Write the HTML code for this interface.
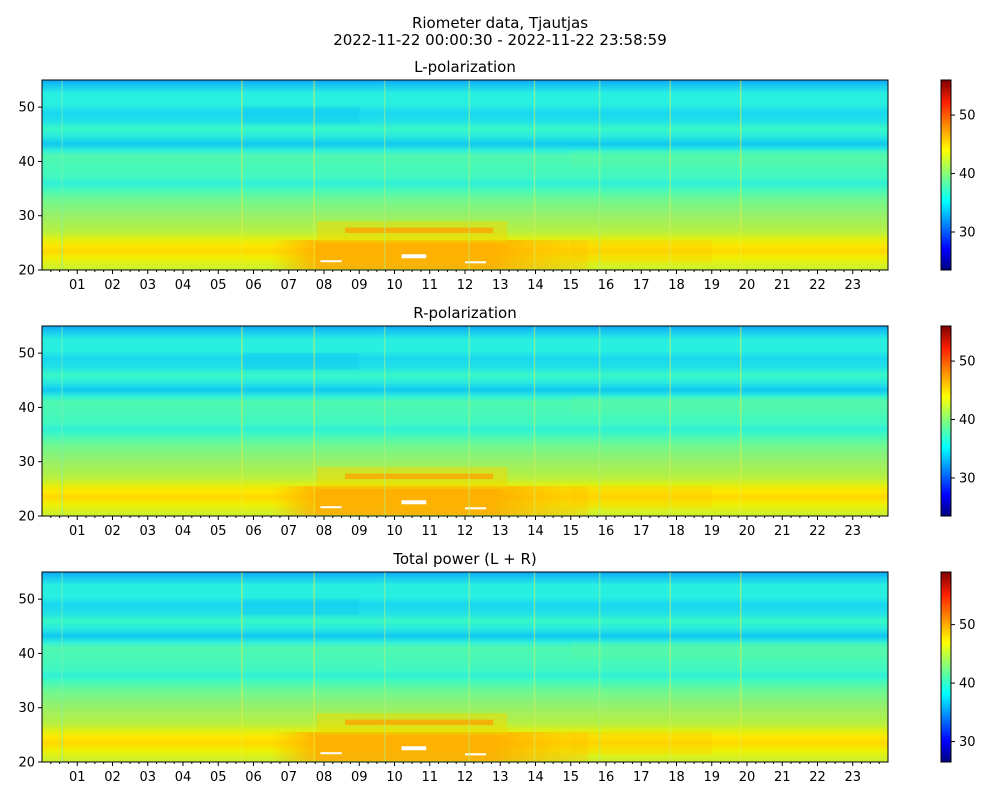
<!DOCTYPE html>
<html><head><style>
body{margin:0;background:#fff;font-family:"Liberation Sans","DejaVu Sans",sans-serif;}
</style></head><body>
<svg id="s" width="1000" height="800" xmlns="http://www.w3.org/2000/svg" font-family="DejaVu Sans, Liberation Sans, sans-serif"></svg>
<script>
const s=document.getElementById('s');
let h='';
h+='<text x="500" y="28" font-size="15" text-anchor="middle">Riometer data, Tjautjas</text>';
h+='<text x="500" y="45" font-size="15" text-anchor="middle">2022-11-22 00:00:30 - 2022-11-22 23:58:59</text>';
const panels=[{t:80,title:'L-polarization',cb:[23.5,56],ct:[30,40,50]},{t:326,title:'R-polarization',cb:[23.5,56],ct:[30,40,50]},{t:572,title:'Total power (L + R)',cb:[26.5,59],ct:[30,40,50]}];
const L=42,R=888,H=190;
const stops=[[55,'#0aa8f8'],[54,'#18c8f0'],[52.5,'#28f0e0'],[50.5,'#28f0e0'],[49,'#18d8f0'],[47.5,'#20e0e8'],[46,'#38f8c8'],[44.5,'#28e8e0'],[43.2,'#10c8f0'],[42,'#30f0d8'],[41,'#50f8b0'],[39,'#48f8b8'],[37,'#40f8c0'],[36,'#30f0d8'],[35,'#40f8c0'],[33,'#70f890'],[30,'#98f068'],[27,'#b8f040'],[25.7,'#e0f010'],[24.5,'#ffe800'],[23.5,'#ffd800'],[22.2,'#f0f000'],[21,'#d8f020'],[20,'#c8f030']];
const yf=(t,f)=>t+(55-f)/35*H;
const xh=hr=>L+hr/24*(R-L);
panels.forEach((p,i)=>{
 const t=p.t,b=t+H;
 h+=`<defs><linearGradient id="g${i}" x1="0" y1="0" x2="0" y2="1">`;
 stops.forEach(st=>{h+=`<stop offset="${(55-st[0])/35}" stop-color="${st[1]}"/>`});
 h+='</linearGradient>';
 h+=`<linearGradient id="o${i}" x1="0" y1="0" x2="1" y2="0"><stop offset="0" stop-color="#ffb000" stop-opacity="0"/><stop offset="0.15" stop-color="#ffa800" stop-opacity="0.85"/><stop offset="0.7" stop-color="#ffa800" stop-opacity="0.85"/><stop offset="1" stop-color="#ffc000" stop-opacity="0.3"/></linearGradient>`;
 h+=`<linearGradient id="cb${i}" x1="0" y1="1" x2="0" y2="0"><stop offset="0" stop-color="#00007f"/><stop offset="0.11" stop-color="#0000ff"/><stop offset="0.36" stop-color="#00ffff"/><stop offset="0.5" stop-color="#7fff7f"/><stop offset="0.63" stop-color="#ffff00"/><stop offset="0.88" stop-color="#ff2000"/><stop offset="1" stop-color="#7f0000"/></linearGradient></defs>`;
 h+=`<text x="${(L+R)/2}" y="${t-8}" font-size="15" text-anchor="middle">${p.title}</text>`;
 h+=`<rect x="${L}" y="${t}" width="${R-L}" height="${H}" fill="url(#g${i})"/>`;
 h+=`<rect x="${xh(15)}" y="${yf(t,42)}" width="${R-xh(15)}" height="${H*3/35}" fill="#60f8a0" opacity="0.3"/>`;
 h+=`<rect x="${xh(5.7)}" y="${yf(t,50)}" width="${xh(9)-xh(5.7)}" height="${H*3/35}" fill="#10c8f0" opacity="0.35"/>`;
 h+=`<rect x="${xh(6.5)}" y="${yf(t,25.5)}" width="${xh(15.5)-xh(6.5)}" height="${H*5.3/35}" fill="url(#o${i})"/>`;
 h+=`<rect x="${xh(15)}" y="${yf(t,25.5)}" width="${xh(19)-xh(15)}" height="${H*4/35}" fill="#ffc000" opacity="0.25"/>`;
 h+=`<rect x="${xh(7.8)}" y="${yf(t,29)}" width="${xh(13.2)-xh(7.8)}" height="${H*4/35}" fill="#f0d800" opacity="0.5"/>`;
 h+=`<rect x="${xh(8.6)}" y="${yf(t,27.8)}" width="${xh(12.8)-xh(8.6)}" height="${H*1/35}" fill="#ffa000" opacity="0.75"/>`;
 h+=`<rect x="${xh(7.9)}" y="${yf(t,21.8)}" width="${xh(8.5)-xh(7.9)}" height="2" fill="#fff"/>`;
 h+=`<rect x="${xh(10.2)}" y="${yf(t,22.9)}" width="${xh(10.9)-xh(10.2)}" height="4" fill="#fff"/>`;
 h+=`<rect x="${xh(12)}" y="${yf(t,21.6)}" width="${xh(12.6)-xh(12)}" height="2" fill="#fff"/>`;
 [[5.65,'#e8f040'],[7.7,'#e8f040'],[13.95,'#d8f060'],[15.8,'#b0f080'],[17.8,'#d8f060'],[19.8,'#e8f040'],[0.55,'#80f0b0'],[9.7,'#b0f080'],[12.1,'#c0f070']].forEach(v=>{
  h+=`<rect x="${xh(v[0])}" y="${t}" width="1.5" height="${H}" fill="${v[1]}" opacity="0.5"/>`;});
 h+=`<rect x="${L}" y="${t}" width="${R-L}" height="${H}" fill="none" stroke="#000" stroke-width="1"/>`;
 [20,30,40,50].forEach(f=>{const y=yf(t,f);h+=`<line x1="${L-4}" y1="${y}" x2="${L}" y2="${y}" stroke="#000"/><text x="${L-7}" y="${y+4.5}" font-size="13" text-anchor="end">${f}</text>`;});
 for(let q=1;q<96;q++){const x=xh(q/4);const maj=q%4==0;h+=`<line x1="${x}" y1="${b}" x2="${x}" y2="${b+(maj?4:2)}" stroke="#000"/>`;
  if(maj){h+=`<text x="${x}" y="${b+19}" font-size="13" text-anchor="middle">${String(q/4).padStart(2,'0')}</text>`;}}
 h+=`<rect x="941" y="${t}" width="10" height="${H}" fill="url(#cb${i})" stroke="#000" stroke-width="1"/>`;
 p.ct.forEach(c=>{const y=b-(c-p.cb[0])/(p.cb[1]-p.cb[0])*H;h+=`<line x1="951" y1="${y}" x2="955" y2="${y}" stroke="#000"/><text x="959" y="${y+4.5}" font-size="13">${c}</text>`;});
});
s.innerHTML=h;
</script>
</body></html>
